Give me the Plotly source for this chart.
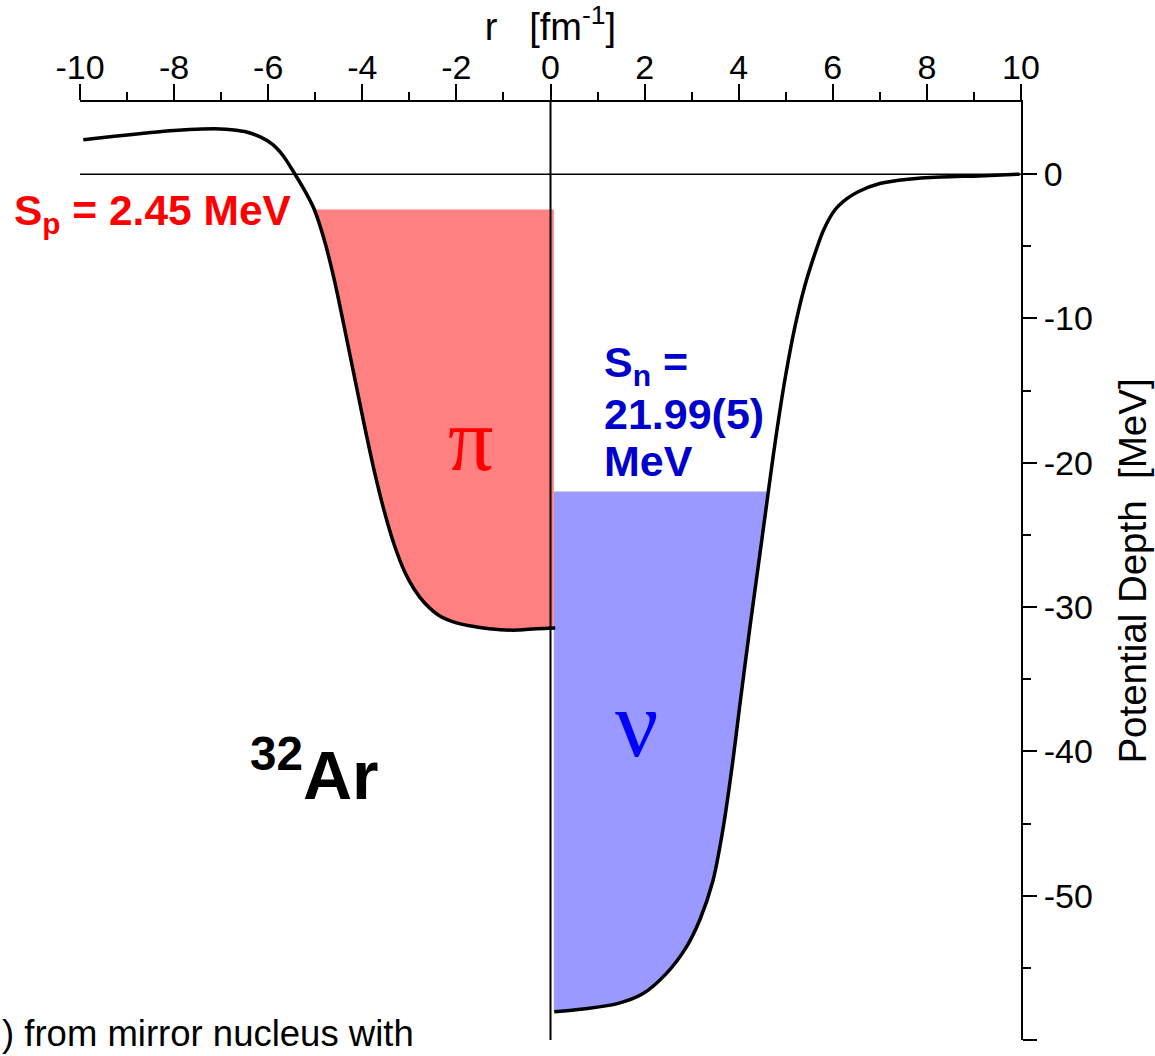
import numpy as np
import plotly.graph_objects as go

# ---------------- data ----------------
# proton potential (left half, r < 0)
r_p = [-9.93, -9.27, -8.6, -8.0, -7.4, -6.9, -6.5, -6.18, -5.9, -5.69,
       -5.45, -5.2, -5.02, -4.8, -4.59, -4.38, -4.17, -3.95, -3.74, -3.53,
       -3.32, -3.1, -2.9, -2.68, -2.36, -2.0, -1.72, -1.3, -0.8, -0.3, 0.1]
V_p = [2.38, 2.62, 2.85, 3.03, 3.13, 3.12, 2.95, 2.6, 2.05, 1.31,
       0.1, -1.28, -2.45, -4.65, -7.4, -10.65, -14.0, -17.5, -20.65, -23.4,
       -25.7, -27.55, -28.75, -29.7, -30.6, -31.1, -31.3, -31.5, -31.6, -31.5, -31.45]

# neutron potential (right half, r > 0)
r_n = [0.08, 0.69, 1.4, 1.96, 2.46, 2.88, 3.17, 3.45, 3.66, 3.87, 4.02,
       4.23, 4.41, 4.58, 4.73, 4.87, 5.0, 5.2, 5.4, 5.6, 5.8, 6.04, 6.3,
       6.55, 7.0, 7.6, 8.3, 9.1, 9.97]
V_n = [-58.05, -57.85, -57.5, -56.8, -55.4, -53.6, -51.7, -49.0, -45.5,
       -40.8, -36.9, -31.6, -27.3, -23.2, -19.6, -16.5, -13.9, -10.5, -7.8,
       -5.7, -3.9, -2.5, -1.7, -1.2, -0.65, -0.35, -0.2, -0.12, 0.0]

S_p = 2.45     # proton separation energy [MeV]
S_n = 21.99    # neutron separation energy [MeV]

x_tickvals = [-10, -8, -6, -4, -2, 0, 2, 4, 6, 8, 10]
x_ticktext = ["-10", "-8", "-6", "-4", "-2", "0", "2", "4", "6", "8", "10"]
x_minor = [-9, -7, -5, -3, -1, 1, 3, 5, 7, 9]
y_tickvals = [0, -10, -20, -30, -40, -50, -60]
y_ticktext = ["0", "-10", "-20", "-30", "-40", "-50", "-60"]
y_minor = [-5, -15, -25, -35, -45, -55]

# ---------------- styling constants ----------------
FONT = "Liberation Sans, Arial, sans-serif"
SERIF = "Liberation Serif, Times New Roman, serif"
EDGE = 0.07          # fills start just right of the r = 0 line

rp = np.array(r_p); vp = np.array(V_p)
rn = np.array(r_n); vn = np.array(V_n)

# red (proton) filled well: from -S_p down to curve bottom
i_peak = int(np.argmax(vp))
seg_r = rp[i_peak:]; seg_v = vp[i_peak:]
i_min = int(np.argmin(seg_v))
desc_r = seg_r[:i_min + 1]; desc_v = seg_v[:i_min + 1]
r_cut_p = float(np.interp(-S_p, desc_v[::-1], desc_r[::-1]))
mask = (rp > r_cut_p) & (rp < EDGE)
red_x = [r_cut_p] + list(rp[mask]) + [EDGE, EDGE]
red_y = [-S_p] + list(vp[mask]) + [float(np.interp(EDGE, rp, vp)), -S_p]

# blue (neutron) filled well: from -S_n down to curve bottom
r_cut_n = float(np.interp(-S_n, vn, rn))
maskn = rn < r_cut_n
blue_x = [EDGE, r_cut_n] + list(rn[maskn][::-1]) + [EDGE]
blue_y = [-S_n, -S_n] + list(vn[maskn][::-1]) + [vn[0]]

fig = go.Figure()
fig.add_trace(go.Scatter(x=blue_x, y=blue_y, fill="toself", mode="lines",
                         line=dict(width=0), fillcolor="#9999FF",
                         hoverinfo="skip", showlegend=False))
fig.add_trace(go.Scatter(x=red_x, y=red_y, fill="toself", mode="lines",
                         line=dict(width=0), fillcolor="#FF8080",
                         hoverinfo="skip", showlegend=False))
fig.add_trace(go.Scatter(x=r_p, y=V_p, mode="lines",
                         line=dict(color="black", width=3.5, shape="spline", smoothing=0.8),
                         showlegend=False))
fig.add_trace(go.Scatter(x=r_n, y=V_n, mode="lines",
                         line=dict(color="black", width=3.5, shape="spline", smoothing=0.8),
                         showlegend=False))

# reference lines
fig.add_shape(type="line", xref="x", yref="y", x0=-10, x1=10, y0=0, y1=0,
              line=dict(color="black", width=1.5), layer="above")
fig.add_shape(type="line", xref="x", yref="y", x0=0, x1=0, y0=-60, y1=5,
              line=dict(color="black", width=2), layer="above")

# annotations
fig.add_annotation(x=-0.0725, xref="paper", y=-2.75, yref="y",
                   text="<b>S<sub>p</sub> = 2.45 MeV</b>", showarrow=False,
                   xanchor="left", yanchor="middle",
                   font=dict(family=FONT, size=42.5, color="#FF0000"))
fig.add_annotation(x=-1.70, y=-18.4, text="\u03c0", showarrow=False,
                   font=dict(family=SERIF, size=90, color="#FF0000"))
fig.add_annotation(x=1.1, y=-13.2, text="<b>S<sub>n</sub> =</b>", showarrow=False,
                   xanchor="left", yanchor="middle",
                   font=dict(family=FONT, size=43, color="#0000CC"))
fig.add_annotation(x=1.1, y=-16.6, text="<b>21.99(5)</b>", showarrow=False,
                   xanchor="left", yanchor="middle",
                   font=dict(family=FONT, size=43, color="#0000CC"))
fig.add_annotation(x=1.1, y=-19.9, text="<b>MeV</b>", showarrow=False,
                   xanchor="left", yanchor="middle",
                   font=dict(family=FONT, size=43, color="#0000CC"))
fig.add_annotation(x=1.83, y=-38.05, text="\u03bd", showarrow=False,
                   font=dict(family=SERIF, size=96, color="#0000FF"))
fig.add_annotation(x=-5.02, y=-41.3, text="<b><sup>32</sup>Ar</b>", showarrow=False,
                   font=dict(family=FONT, size=68, color="black"))
fig.add_annotation(x=-0.085, xref="paper", y=-59.55, yref="y",
                   text=") from mirror nucleus with", showarrow=False,
                   xanchor="left", yanchor="middle",
                   font=dict(family=FONT, size=36.5, color="black"))

fig.update_layout(
    width=1155, height=1056,
    margin=dict(l=80, r=134, t=102, b=16, autoexpand=False),
    paper_bgcolor="white", plot_bgcolor="white",
    font=dict(family=FONT, size=34, color="black"),
    showlegend=False,
    xaxis=dict(range=[-10, 10], side="top", showline=True, linecolor="black",
               linewidth=2, ticks="outside", ticklen=16, tickwidth=2,
               tickcolor="black", tickvals=x_tickvals, ticktext=x_ticktext,
               tickfont=dict(family=FONT, size=34), showgrid=False,
               zeroline=False, automargin=False, ticklabelstandoff=-9,
               minor=dict(tickvals=x_minor, ticks="outside", ticklen=8,
                          tickwidth=2, tickcolor="black", showgrid=False),
               title=dict(text="r\u00a0\u00a0\u00a0[fm<sup>-1</sup>]",
                          font=dict(family=FONT, size=38), standoff=9)),
    yaxis=dict(range=[-60, 5], side="right", showline=True, linecolor="black",
               linewidth=2, ticks="outside", ticklen=14, tickwidth=2,
               tickcolor="black", tickvals=y_tickvals, ticktext=y_ticktext,
               tickfont=dict(family=FONT, size=34), showgrid=False,
               zeroline=False, automargin=False,
               minor=dict(tickvals=y_minor, ticks="outside", ticklen=8,
                          tickwidth=2, tickcolor="black", showgrid=False),
               title=dict(text="Potential Depth\u00a0\u00a0[MeV]",
                          font=dict(family=FONT, size=38.5), standoff=27)),
)

fig.write_html("out.html")
